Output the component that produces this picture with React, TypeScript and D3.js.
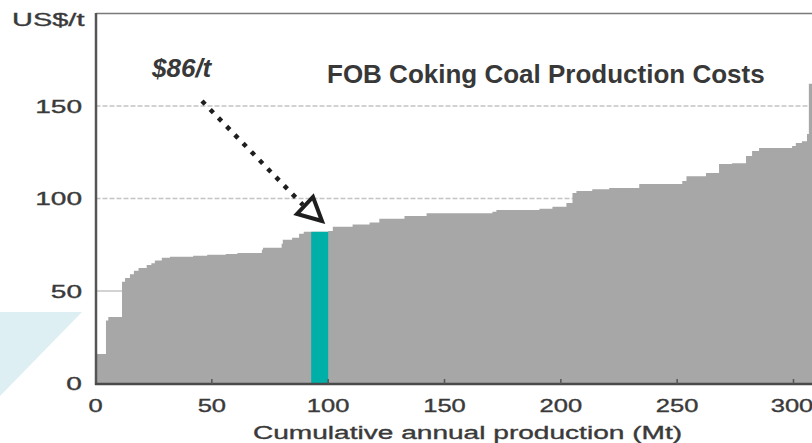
import React from "react";
import * as d3 from "d3";

// Cost curve steps: cumulative production start (Mt) and cost (US$/t)
const stepStart = [0, 4.5, 5.5, 11.4, 12.7, 14.8, 16.5, 18.5, 22, 24, 25.5, 28.5, 32, 42, 48, 56, 61, 71.5, 72, 80, 80.5, 84.5, 87.5, 89.5, 92.7, 100, 102, 110.5, 117.8, 122, 132.8, 142.3, 170.6, 172.3, 190.8, 196.4, 202.4, 205, 206.7, 213.5, 220.8, 233.7, 252.2, 254, 262.4, 268, 273.6, 279.6, 282.2, 285.2, 299.4, 301, 303.6, 305.8, 306.6];
const stepCost = [16, 34, 36, 55, 57, 59, 61, 62.5, 64, 65, 66.5, 68, 68.5, 69, 69.6, 70, 70.6, 72.3, 73.4, 75.5, 77.7, 78.8, 81, 82, 82, 82.5, 84.7, 86, 87, 89, 90.6, 92, 92.8, 93.8, 94.4, 95.5, 97.6, 103, 104, 105, 105.7, 107.8, 109.5, 112, 113.8, 118.7, 119, 123, 125.7, 127.3, 128.4, 130, 131, 134.8, 162];
const curveEnd = 308;
const highlightIndex = 24;

const xTicks = [0, 50, 100, 150, 200, 250, 300];
const yTicks = [0, 50, 100, 150];
const gridValues = [50, 100, 150];

const title = "FOB Coking Coal Production Costs";
const annotation = "$86/t";
const yUnit = "US$/t";
const xTitle = "Cumulative annual production (Mt)";

const W = 812;
const H = 443;
const FONT = "'Liberation Sans', Arial, sans-serif";
const SX = 1.56;
const SXT = 1.42;

export default function App() {
  const x = d3.scaleLinear().domain([0, 300]).range([95.5, 793.5]);
  const y = d3.scaleLinear().domain([0, 200]).range([383.5, 13.5]);

  const pts: [number, number][] = stepStart.map((s, i) => [s, stepCost[i]]);
  pts.push([curveEnd, stepCost[stepCost.length - 1]]);
  const area = d3
    .area<[number, number]>()
    .x((d) => x(d[0]))
    .y0(y(0))
    .y1((d) => y(d[1]))
    .curve(d3.curveStepAfter);

  const hx0 = x(stepStart[highlightIndex]);
  const hx1 = x(stepStart[highlightIndex + 1]);
  const hy = y(stepCost[highlightIndex]);

  const labelProps = {
    fontFamily: FONT,
    fontSize: 18,
    fill: "#3a3a3a",
    stroke: "#3a3a3a",
    strokeWidth: 0.35,
  };

  return (
    <svg
      width={W}
      height={H}
      viewBox={`0 0 ${W} ${H}`}
      style={{ position: "absolute", left: 0, top: 0, background: "#fff" }}
    >
      {/* light blue decorative triangle */}
      <polygon points="0,312 82,312 0,396" fill="#ddeff2" />

      {/* grid lines */}
      {gridValues.map((v) => (
        <line
          key={v}
          x1={x(0)}
          x2={W}
          y1={y(v)}
          y2={y(v)}
          stroke="#c4c4c4"
          strokeWidth={1.5}
          strokeDasharray={v === 50 ? undefined : "5 2"}
        />
      ))}

      {/* cost curve */}
      <path d={area(pts) || ""} fill="#a7a7a7" />
      <rect x={hx0} y={hy} width={hx1 - hx0} height={y(0) - hy} fill="#00b0a8" />

      {/* frame */}
      <line x1={96} x2={W} y1={13.5} y2={13.5} stroke="#7a7a7a" strokeWidth={1.5} />
      <line x1={96} x2={96} y1={13} y2={385} stroke="#555" strokeWidth={2.5} />
      <line x1={95} x2={W} y1={384} y2={384} stroke="#4a4a4a" strokeWidth={2.5} />
      {xTicks.slice(1).map((t) => (
        <line key={t} x1={x(t)} x2={x(t)} y1={384} y2={379} stroke="#555" strokeWidth={1.5} />
      ))}

      {/* y tick labels */}
      {yTicks.map((t) => (
        <text
          key={t}
          transform={`translate(82,${y(t) + 6.5}) scale(${SX},1)`}
          textAnchor="end"
          {...labelProps}
        >
          {t}
        </text>
      ))}
      <text transform={`translate(12,25.5) scale(${SX + 0.05},1)`} {...labelProps}>
        {yUnit}
      </text>

      {/* x tick labels */}
      {xTicks.map((t) => (
        <text
          key={t}
          transform={`translate(${x(t) - (t === 300 ? 1.5 : 0)},412) scale(${SXT},1)`}
          textAnchor="middle"
          {...labelProps}
        >
          {t}
        </text>
      ))}
      <text
        transform={`translate(467.5,439) scale(${SX},1)`}
        textAnchor="middle"
        {...labelProps}
      >
        {xTitle}
      </text>

      {/* title and annotation */}
      <text x={327} y={83} fontFamily={FONT} fontSize={26} fontWeight="bold" fill="#383838">
        {title}
      </text>
      <text
        x={152}
        y={77}
        fontFamily={FONT}
        fontSize={26}
        fontWeight="bold"
        fontStyle="italic"
        fill="#383838"
      >
        {annotation}
      </text>

      {/* dotted arrow */}
      <line
        x1={202}
        y1={101}
        x2={303}
        y2={205}
        stroke="#1e1e1e"
        strokeWidth={4.5}
        strokeDasharray="4.5 7.3"
      />
      <polygon
        points="322,221 297,214 313,197"
        fill="#fff"
        stroke="#1e1e1e"
        strokeWidth={4}
        strokeLinejoin="miter"
      />
    </svg>
  );
}
